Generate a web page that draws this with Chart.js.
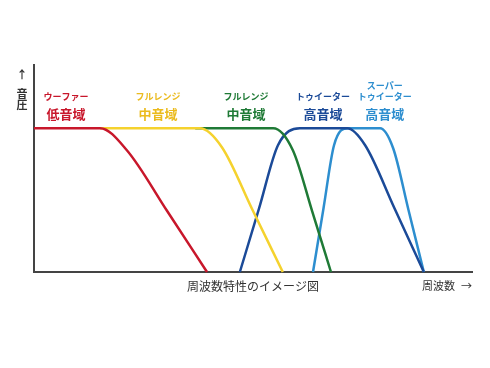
<!DOCTYPE html>
<html>
<head>
<meta charset="utf-8">
<script src="https://cdn.jsdelivr.net/npm/chart.js@4.4.1/dist/chart.umd.min.js"></script>
<style>
  html, body { margin: 0; padding: 0; background: #fff; }
  #wrap { width: 490px; height: 368px; }
</style>
</head>
<body>
<div id="wrap"><canvas id="freq"></canvas></div>
<script>
// frequency (0-100, relative) and sound pressure (0-100, relative)
var wooferX = [0, 15.1, 21.2, 30.4, 39.5];
var wooferY = [100, 100, 84.7, 42.4, 0];
var fullYellowX = [15.1, 37.9, 42.9, 49.9, 56.8];
var fullYellowY = [100, 100, 86.8, 43.1, 0];
var fullGreenX = [36.8, 54.6, 59.1, 63.5, 67.8];
var fullGreenY = [100, 100, 84.7, 42.4, 0];
var tweeterX = [47.0, 51.4, 55.7, 60.7, 71.5, 75.6, 82.3, 89.0];
var tweeterY = [0, 44.4, 88.2, 100, 100, 88.2, 44.4, 0];
var superX = [63.7, 66.1, 68.5, 71.7, 79.0, 82.0, 85.5, 89.0];
var superY = [0, 44.4, 88.2, 100, 100, 86.1, 43.1, 0];

var speakerNames = [['ウーファー'], ['フルレンジ'], ['フルレンジ'], ['トゥイーター'], ['スーパー', 'トゥイーター']];
var bandNames = ['低音域', '中音域', '中音域', '高音域', '高音域'];
var lineColors = ['#c8172b', '#f5d22e', '#1f7a36', '#1b4a98', '#2d8ecf'];
var textColors = ['#c8172b', '#ebbb1e', '#1f7a36', '#1b4a98', '#2d8ecf'];

var xTitle = '周波数特性のイメージ図';
var xUnit = ['周波数', '→'];
var yUnit = ['↑', '音', '圧'];

function toPoints(xs, ys) {
    var pts = [];
    for (var i = 0; i < xs.length; i++) {
        pts.push({x: xs[i], y: ys[i]});
    }
    return pts;
}

// label centres on the x scale
var labelAt = [7.3, 28.3, 48.4, 66.0, 80.1];

var textPlugin = {
    id: 'texts',
    afterDraw: function(chart) {
        var ctx = chart.ctx;
        var xs = chart.scales.x;
        ctx.save();
        ctx.textAlign = 'center';
        ctx.textBaseline = 'middle';
        for (var i = 0; i < bandNames.length; i++) {
            var cx = xs.getPixelForValue(labelAt[i]);
            ctx.fillStyle = textColors[i];
            ctx.font = 'bold 9px "Noto Sans CJK JP"';
            var lines = speakerNames[i];
            for (var j = 0; j < lines.length; j++) {
                ctx.fillText(lines[j], cx, 97 - (lines.length - 1 - j) * 11);
            }
            ctx.font = 'bold 13px "Noto Sans CJK JP"';
            ctx.fillText(bandNames[i], cx, 114);
        }
        ctx.fillStyle = '#333';
        ctx.font = '12px "Noto Sans CJK JP"';
        ctx.fillText(xTitle, 253, 286);
        ctx.font = '11px "Noto Sans CJK JP"';
        ctx.textAlign = 'left';
        ctx.fillText(xUnit[0], 422, 286);
        ctx.fillText(xUnit[1], 461, 286);
        ctx.textAlign = 'center';
        ctx.font = 'bold 11px "Noto Sans CJK JP"';
        ctx.fillText(yUnit[0], 22, 75);
        ctx.fillText(yUnit[1], 22, 94);
        ctx.fillText(yUnit[2], 22, 105);
        ctx.restore();
    }
};

var series = [
    [wooferX, wooferY],
    [fullYellowX, fullYellowY],
    [fullGreenX, fullGreenY],
    [tweeterX, tweeterY],
    [superX, superY]
];
var datasets = [];
for (var k = 0; k < series.length; k++) {
    datasets.push({
        label: bandNames[k],
        data: toPoints(series[k][0], series[k][1]),
        borderColor: lineColors[k],
        borderWidth: 2.5,
        pointRadius: 0,
        cubicInterpolationMode: 'monotone',
        fill: false,
        clip: false
    });
}

new Chart(document.getElementById('freq'), {
    type: 'line',
    data: { datasets: datasets },
    options: {
        responsive: true,
        maintainAspectRatio: false,
        animation: false,
        layout: { padding: { left: 34, right: 18, top: 65, bottom: 96 } },
        scales: {
            x: {
                type: 'linear', min: 0, max: 100,
                grid: { display: false, drawTicks: false },
                ticks: { display: false },
                border: { display: true, color: '#444', width: 2 }
            },
            y: {
                min: 0, max: 144,
                grid: { display: false, drawTicks: false },
                ticks: { display: false },
                border: { display: true, color: '#444', width: 2 }
            }
        },
        plugins: {
            legend: { display: false },
            tooltip: { enabled: false }
        }
    },
    plugins: [textPlugin]
});
</script>
</body>
</html>
